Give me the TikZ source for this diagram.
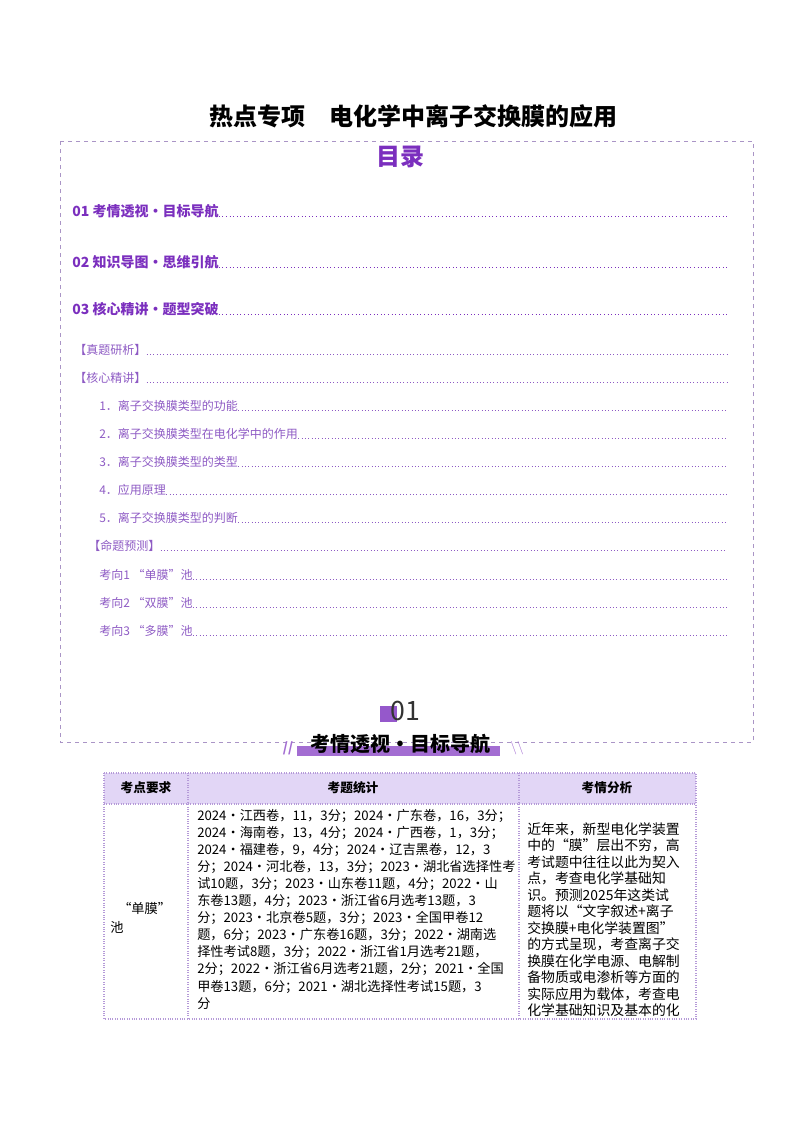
\documentclass[tikz,border=0pt]{standalone}
\usepackage{fontspec}
\setmainfont{Noto Sans CJK SC}
\definecolor{pur}{HTML}{7B2FBE}
\definecolor{lpur}{HTML}{8E5BC4}
\definecolor{hdr}{HTML}{E2D6F6}
\definecolor{bord}{HTML}{B59AD8}
\begin{document}
\begin{tikzpicture}[x=0.75pt,y=-0.75pt,
 tocb/.style={anchor=base west,font=\bfseries\fontsize{10.5}{12}\selectfont,text=pur,inner sep=0},
 tocs/.style={anchor=base west,font=\fontsize{9}{11}\selectfont,text=lpur,inner sep=0},
 lead/.style={dotted,line width=0.7pt},
 cell/.style={anchor=base west,font=\fontsize{9.9}{11}\selectfont,inner sep=0},
 celr/.style={anchor=base west,font=\fontsize{10.4}{11}\selectfont,inner sep=0}]
\useasboundingbox (0,0) rectangle (800,1132);
\node (title) at (413,116) {\bfseries\fontsize{18}{20}\selectfont 热点专项\quad 电化学中离子交换膜的应用};
\draw[dashed,color=bord!80!gray,line width=0.6pt] (60,141) rectangle (753,742);
\node[text=pur] (ml) at (400,157) {\bfseries\fontsize{18}{20}\selectfont 目录};
\foreach \i/\t/\y in {a/01 考情透视·目标导航/216, b/02 知识导图·思维引航/267, c/03 核心精讲·题型突破/314}{
 \node[tocb] (t\i) at (72,\y) {\t};
 \draw[lead,pur] (t\i.base east) -- (727,\y);
}
\foreach \i/\t/\x/\y in {d/【真题研析】/74/354, e/【核心精讲】/74/382,
 f/1．离子交换膜类型的功能/99/410, g/2．离子交换膜类型在电化学中的作用/99/438,
 h/3．离子交换膜类型的类型/99/466, i/4．应用原理/99/494, j/5．离子交换膜类型的判断/99/522,
 k/【命题预测】/88/550, l/考向1 “单膜”池/99/579, m/考向2 “双膜”池/99/607, n/考向3 “多膜”池/99/635}{
 \node[tocs] (t\i) at (\x,\y) {\t};
 \draw[lead,line width=0.5pt,lpur] (t\i.base east) -- (727,\y);
}
\fill[pur!80!white] (380,706) rectangle (397,722);
\node[text=black!80] (n01) at (405,711) {\fontsize{20}{22}\selectfont 01};
\fill[pur!70!white] (297,746) rectangle (500,756);
\node (sec) at (400,744) {\bfseries\fontsize{15}{17}\selectfont 考情透视·目标导航};
\node[text=pur!70!white] (sl1) at (288,748) {\bfseries\itshape //};
\node[text=pur!70!white] (sl2) at (517,748) {\bfseries $\backslash\backslash$};
\fill[hdr] (104,773) rectangle (696,804);
\draw[bord,densely dotted,line width=0.8pt] (104,773) rectangle (696,1019);
\draw[bord,densely dotted,line width=0.8pt] (104,804) -- (696,804) (188,773) -- (188,1019) (519,773) -- (519,1019);
\node (h1) at (146,788) {\bfseries\fontsize{9.5}{11}\selectfont 考点要求};
\node (h2) at (353,788) {\bfseries\fontsize{9.5}{11}\selectfont 考题统计};
\node (h3) at (607,788) {\bfseries\fontsize{9.5}{11}\selectfont 考情分析};
\node[cell] (c1) at (118,913) {“单膜”};
\node[cell] (c2) at (110,932) {池};
\foreach \t [count=\k] in {
2024·江西卷，11，3分；2024·广东卷，16，3分；,
2024·海南卷，13，4分；2024·广西卷，1，3分；,
2024·福建卷，9，4分；2024·辽吉黑卷，12，3,
分；2024·河北卷，13，3分；2023•湖北省选择性考,
试10题，3分；2023•山东卷11题，4分；2022•山,
东卷13题，4分；2023•浙江省6月选考13题，3,
分；2023•北京卷5题，3分；2023•全国甲卷12,
题，6分；2023•广东卷16题，3分；2022•湖南选,
择性考试8题，3分；2022·浙江省1月选考21题，,
2分；2022·浙江省6月选考21题，2分；2021•全国,
甲卷13题，6分；2021•湖北选择性考试15题，3,
分}{
 \node[cell] (m\k) at (197,{820+17.1*(\k-1)}) {\t};
}
\foreach \t [count=\k] in {
近年来，新型电化学装置,
中的“膜”层出不穷，高,
考试题中往往以此为契入,
点，考查电化学基础知,
识。预测2025年这类试,
题将以“文字叙述+离子,
交换膜+电化学装置图”,
的方式呈现，考查离子交,
换膜在化学电源、电解制,
备物质或电渗析等方面的,
实际应用为载体，考查电,
化学基础知识及基本的化}{
 \node[celr] (r\k) at (527,{834+16.5*(\k-1)}) {\t};
}
\end{tikzpicture}
\end{document}
